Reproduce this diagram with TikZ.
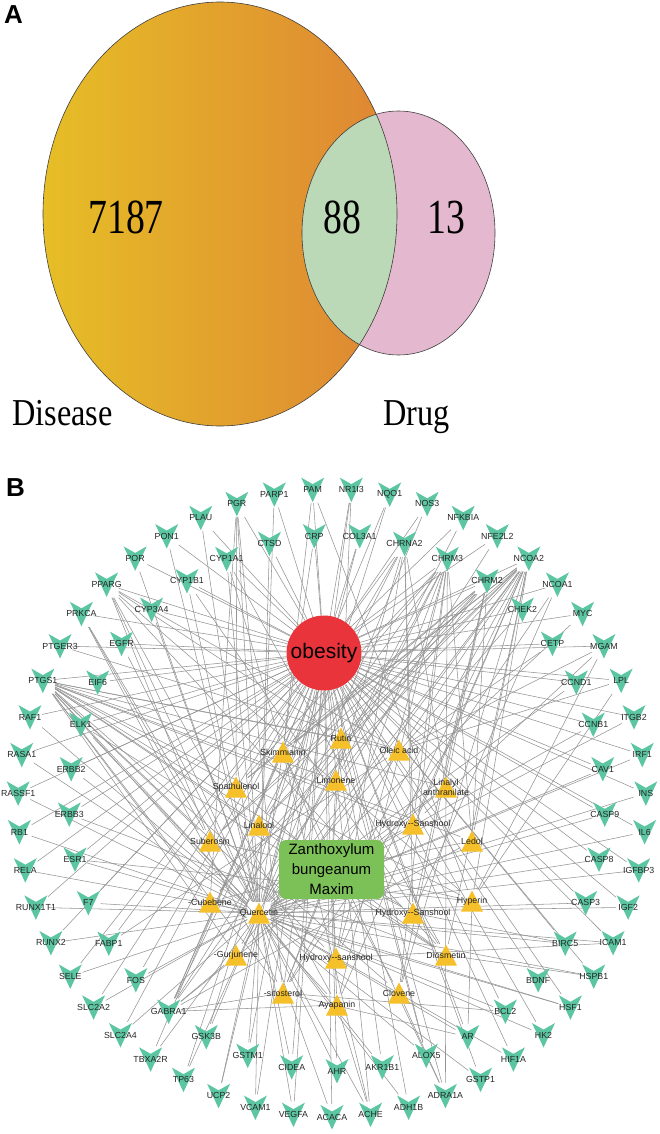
\documentclass[tikz,border=0pt]{standalone}
\usepackage{fontspec}
\setmainfont{Liberation Sans}
\newfontfamily\vennfont{Liberation Serif}
\usetikzlibrary{backgrounds}

\definecolor{vennyel}{RGB}{230,190,38}
\definecolor{vennorg}{RGB}{222,133,52}
\definecolor{venngreen}{RGB}{187,216,183}
\definecolor{vennpink}{RGB}{228,185,207}
\definecolor{genecol}{RGB}{92,198,162}
\definecolor{compcol}{RGB}{246,192,42}
\definecolor{obred}{RGB}{232,52,58}
\definecolor{herbgreen}{RGB}{124,193,88}
\definecolor{edgegray}{RGB}{148,148,148}

\newcommand\outergenes{PAM,PARP1,PGR,PLAU,PON1,POR,PPARG,PRKCA,PTGER3,PTGS1,RAF1,RASA1,RASSF1,RB1,RELA,RUNX1T1,RUNX2,SELE,SLC2A2,SLC2A4,TBXA2R,TP63,UCP2,VCAM1,VEGFA,ACACA,ACHE,ADH1B,ADRA1A,GSTP1,HIF1A,HK2,HSF1,HSPB1,ICAM1,IGF2,IGFBP3,IL6,INS,IRF1,ITGB2,LPL,MGAM,MYC,NCOA1,NCOA2,NFE2L2,NFKBIA,NOS3,NQO1,NR1I3}
\newcommand\innergenes{AHR,AKR1B1,ALOX5,AR,BCL2,BDNF,BIRC5,CASP3,CASP8,CASP9,CAV1,CCNB1,CCND1,CETP,CHEK2,CHRM2,CHRM3,CHRNA2,COL3A1,CRP,CTSD,CYP1A1,CYP1B1,CYP3A4,EGFR,EIF6,ELK1,ERBB2,ERBB3,ESR1,F7,FABP1,FOS,GABRA1,GSK3B,GSTM1,CIDEA}

\begin{document}
\begin{tikzpicture}[x=1pt, y=1pt,
    edge/.style={draw=edgegray, line width=0.55pt},
    vline/.style={draw=black!75, line width=0.6pt},
    vnum/.style={font=\vennfont\fontsize{49}{49}\selectfont, xscale=0.77, anchor=base, inner sep=0},
    vset/.style={font=\vennfont\fontsize{38}{38}\selectfont, xscale=0.85, anchor=base west, inner sep=0},
    panel/.style={font=\bfseries\fontsize{26}{26}\selectfont, anchor=north west, inner sep=0},
    glab/.style={font=\fontsize{8.8}{9}\selectfont, inner sep=0, text=black!85},
    clab/.style={font=\fontsize{8.8}{10}\selectfont, inner sep=0, align=center, text=black!85},
    gene/.style={rectangle, minimum width=24, minimum height=26, inner sep=0,
      path picture={\fill[genecol] (path picture bounding box.center) ++(-11.5,12)
        -- ++(11.5,-6.5) -- ++(11.5,6.5) -- ++(-11.5,-24.5) -- cycle;},
      label={[glab]center:#1}},
    comp/.style={rectangle, minimum width=23, minimum height=22, inner sep=0,
      path picture={\fill[compcol] (path picture bounding box.center) ++(0,10.5)
        -- ++(11,-21) -- ++(-22,0) -- cycle;},
      label={[clab]center:#1}}]
  \useasboundingbox (0,0) rectangle (660,-1134);

  % A: Venn
  \fill[vennpink] (398.5,-233) ellipse [x radius=96.5, y radius=122];
  \shade[left color=vennyel, right color=vennorg] (220,-214) ellipse [x radius=177, y radius=212];
  \begin{scope}
    \clip (220,-214) ellipse [x radius=177, y radius=212];
    \fill[venngreen] (398.5,-233) ellipse [x radius=96.5, y radius=122];
  \end{scope}
  \draw[vline] (220,-214) ellipse [x radius=177, y radius=212];
  \draw[vline] (398.5,-233) ellipse [x radius=96.5, y radius=122];
  \node[vnum] (n7187) at (126,-233) {7187};
  \node[vnum] (n88) at (342.5,-233) {88};
  \node[vnum] (n13) at (446.5,-233) {13};
  \node[vset] (disease) at (12,-425) {Disease};
  \node[vset] (drug) at (383,-425) {Drug};
  \node[panel] (pA) at (4,-5) {A};

  % B: network
  \node[panel] (pB) at (6,-478) {B};
  \begin{scope}[shift={(332,-803)}]
    \foreach \g [count=\k from 0] in \outergenes
      \node[gene=\g] (\g) at ({93.53+7.0588*\k}:314) {};
  \end{scope}
  \begin{scope}[shift={(337,-803)}]
    \foreach \g [count=\k from 0] in \innergenes
      \node[gene=\g] (\g) at ({-90+9.7297*\k}:268) {};
  \end{scope}

  \node[circle, fill=obred, minimum size=75, inner sep=0,
    font=\fontsize{21}{21}\selectfont] (obesity) at (324,-653) {obesity};
  \node[rectangle, rounded corners=7, fill=herbgreen, minimum width=105, minimum height=59,
    align=center, font=\fontsize{15}{20}\selectfont] (herb) at (331.5,-869.5)
    {Zanthoxylum\\bungeanum\\Maxim};

  \foreach \n/\x/\y/\t in {Skim/283/752/Skimmianin, Rutin/341/738/Rutin,
      Oleic/399/750/Oleic acid, Limon/336/780/Limonene, Spath/236/787/Spathulenol,
      Linalyl/446/787/Linalyl\\anthranilate, Linalool/259/825/Linalool,
      HSa/413/824/Hydroxy-{}-Sanshool, Suber/210/841/Suberosin, Ledol/472/841/Ledol,
      Cubeb/210/902/-Cubebene, Querc/259/913/Quercetin, Hyper/472/901/Hyperin,
      HSb/413/913/Hydroxy-{}-Sanshool, Gurj/236/955/-Gurjunene,
      HSc/336/958/Hydroxy-{}-sanshool, Diosm/446/955/Diosmetin,
      Sitos/283/993/-sitosterol, Clov/399/993/Clovene, Ayap/337/1005/Ayapanin}
    \node[comp={\t}] (\n) at (\x,-\y) {};

  \begin{pgfonlayer}{background}
    \foreach \g in \outergenes \draw[edge] (\g) -- (obesity);
    \foreach \g in \innergenes \draw[edge] (\g) -- (obesity);
    \foreach \c in {Skim,Rutin,Oleic,Limon,Spath,Linalyl,Linalool,HSa,Suber,Ledol,
        Cubeb,Querc,Hyper,HSb,Gurj,HSc,Diosm,Sitos,Clov,Ayap}
      \draw[edge] (herb) -- (\c);
    \foreach \c/\ts in {
        Querc/{PARP1,PGR,PLAU,PON1,POR,PPARG,PRKCA,PTGS1,RAF1,RASA1,RASSF1,RB1,RELA,RUNX1T1,RUNX2,SELE,SLC2A2,SLC2A4,TBXA2R,TP63,UCP2,VCAM1,VEGFA,ACACA,ACHE,ADH1B,GSTP1,HIF1A,HK2,HSF1,HSPB1,ICAM1,IGF2,IGFBP3,IL6,INS,IRF1,ITGB2,MYC,NCOA2,NFE2L2,NFKBIA,NOS3,NQO1,AHR,AKR1B1,ALOX5,AR,BCL2,BIRC5,CASP3,CASP8,CASP9,CAV1,CCNB1,CCND1,CHEK2,COL3A1,CRP,CTSD,CYP1A1,CYP1B1,CYP3A4,EGFR,ELK1,ERBB2,ESR1,F7,FOS,GSK3B,GSTM1,CIDEA},
        Skim/{CHRM2,CHRM3,CHRNA2,ADRA1A,ACHE,GABRA1,CYP1A1,NCOA2,PAM},
        Rutin/{PPARG,PTGS1,NCOA2,ALOX5,GABRA1,NR1I3},
        Oleic/{PPARG,PTGS1,FABP1,CETP,LPL,PTGER3,NCOA2,MGAM},
        Limon/{CHRM2,CHRM3,CHRNA2,GABRA1,PTGS1},
        Spath/{CHRM3,NCOA2,PTGS1,CHRM2,PGR},
        Linalyl/{CHRM2,CHRM3,CHRNA2,ADRA1A,GABRA1,PTGS1},
        Linalool/{CHRM2,CHRM3,CHRNA2,GABRA1,PTGS1,NCOA2},
        HSa/{CHRM3,CHRNA2,PTGS1,NCOA2,MGAM},
        Suber/{PTGS1,NCOA2,CHRM2,PPARG,PRKCA},
        Ledol/{CHRM2,CHRM3,PTGS1,NCOA2,GABRA1},
        Cubeb/{NCOA2,PTGS1,CHRM2,PGR,HSF1},
        Hyper/{PPARG,PTGS1,NCOA2,AR,ESR1,MGAM,LPL,PAM},
        HSb/{CHRM2,CHRNA2,PTGS1,NCOA1,BIRC5},
        Gurj/{NCOA2,PTGS1,CHRM3,GABRA1},
        HSc/{CHRM3,CHRNA2,PTGS1,NCOA2,ICAM1},
        Sitos/{PGR,NCOA2,PTGS1,GABRA1,CHRM3,PRKCA,NCOA1,AR,BCL2,NR1I3},
        Clov/{NCOA2,PTGS1,CHRM2,CHRM3,ADRA1A},
        Ayap/{PTGS1,NCOA2,PPARG,CHRM3,GABRA1,ACHE},
        Diosm/{PTGS1,PPARG,NCOA2,CYP1B1,CYP1A1,HSPB1,ELK1,ERBB3}}
      \foreach \t in \ts \draw[edge] (\c) -- (\t);
  \end{pgfonlayer}
\end{tikzpicture}
\end{document}
